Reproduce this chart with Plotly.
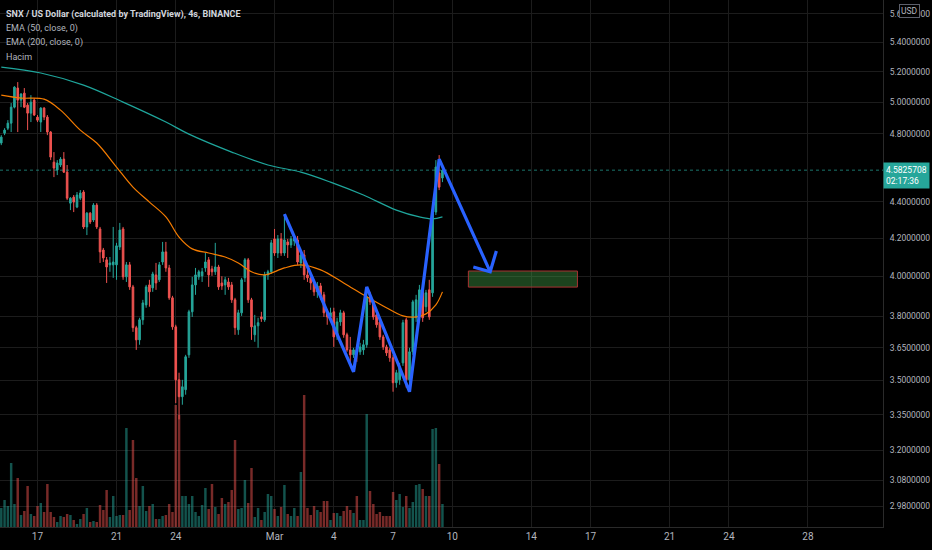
import math
import pandas as pd
import plotly.graph_objects as go

# ---------------- data ----------------
title_text = "SNX / US Dollar (calculated by TradingView), 4s, BINANCE"
legend_lines = ["EMA (50, close, 0)", "EMA (200, close, 0)", "Hacim"]

first_bar = "2022-02-15 04:00"
n_bars = 135
times = pd.date_range(first_bar, periods=n_bars, freq="4h")

open_ = [4.745, 4.805, 4.836, 4.867, 4.968, 5.091, 5.013, 5.058, 4.981, 4.930,
         5.013, 4.905, 4.874, 4.962, 4.905, 4.812, 4.630, 4.583, 4.613, 4.648,
         4.571, 4.393, 4.427, 4.371, 4.421, 4.456, 4.261, 4.337, 4.299, 4.382,
         4.250, 4.137, 4.085, 4.059, 4.059, 4.059, 4.153, 4.250, 3.997, 4.059,
         3.946, 3.745, 3.687, 3.783, 3.856, 3.956, 3.941, 4.007, 3.982, 4.074,
         4.127, 4.043, 3.891, 3.749, 3.503, 3.428, 3.459, 3.617, 3.822, 3.956,
         3.997, 4.002, 4.043, 4.085, 4.038, 4.023, 4.048, 3.966, 3.956, 3.971,
         3.956, 3.881, 3.735, 3.817, 3.992, 4.085, 3.881, 3.711, 3.754, 3.797,
         3.783, 4.007, 4.023, 4.196, 4.121, 4.196, 4.121, 4.180, 4.164, 4.185,
         4.191, 4.069, 4.111, 4.007, 3.992, 3.966, 3.921, 3.951, 3.906, 3.817,
         3.797, 3.822, 3.711, 3.773, 3.817, 3.711, 3.640, 3.617, 3.640, 3.631,
         3.640, 3.664, 3.896, 3.871, 3.807, 3.773, 3.701, 3.654, 3.640, 3.603,
         3.490, 3.503, 3.580, 3.783, 3.503, 3.631, 3.793, 3.797, 3.931, 3.847,
         3.931, 3.916, 4.343, 4.566, 4.537]
high = [4.793, 4.836, 4.886, 4.994, 5.103, 5.130, 5.058, 5.091, 4.994, 5.045,
        5.026, 4.918, 4.968, 4.968, 4.918, 4.818, 4.690, 4.642, 4.660, 4.690,
        4.613, 4.427, 4.439, 4.456, 4.467, 4.467, 4.343, 4.343, 4.393, 4.393,
        4.261, 4.148, 4.100, 4.100, 4.261, 4.175, 4.283, 4.261, 4.074, 4.074,
        3.956, 3.754, 3.793, 3.881, 3.956, 3.982, 4.023, 4.069, 4.074, 4.180,
        4.180, 4.059, 3.901, 3.759, 3.535, 3.503, 3.617, 3.832, 3.997, 4.043,
        4.033, 4.043, 4.121, 4.100, 4.054, 4.175, 4.059, 4.000, 3.997, 3.992,
        3.971, 3.891, 3.832, 3.992, 4.095, 4.095, 3.891, 3.807, 3.793, 3.822,
        4.023, 4.033, 4.191, 4.250, 4.217, 4.228, 4.332, 4.196, 4.212, 4.222,
        4.212, 4.137, 4.137, 4.033, 4.012, 3.982, 3.971, 3.966, 3.921, 3.832,
        3.842, 3.842, 3.793, 3.832, 3.827, 3.721, 3.701, 3.650, 3.664, 3.673,
        3.687, 3.931, 3.921, 3.881, 3.822, 3.783, 3.711, 3.664, 3.650, 3.617,
        3.548, 3.580, 3.783, 3.793, 3.650, 3.881, 3.906, 3.956, 3.941, 3.931,
        3.982, 4.382, 4.642, 4.672, 4.613]
low = [4.732, 4.793, 4.824, 4.812, 4.960, 4.812, 4.968, 4.962, 4.824, 4.874,
       4.912, 4.874, 4.812, 4.886, 4.793, 4.642, 4.542, 4.554, 4.601, 4.566,
       4.410, 4.354, 4.343, 4.365, 4.410, 4.250, 4.217, 4.277, 4.288, 4.250,
       4.069, 4.074, 3.966, 4.023, 3.992, 3.982, 4.137, 3.982, 3.971, 3.931,
       3.725, 3.640, 3.664, 3.759, 3.842, 3.847, 3.921, 3.931, 3.971, 4.059,
       4.023, 3.881, 3.735, 3.400, 3.330, 3.393, 3.437, 3.603, 3.797, 3.906,
       3.982, 3.971, 4.023, 3.946, 4.002, 4.007, 3.931, 3.931, 3.906, 3.931,
       3.866, 3.711, 3.711, 3.802, 3.971, 3.866, 3.687, 3.678, 3.650, 3.773,
       3.773, 3.982, 4.012, 4.106, 4.095, 4.106, 4.106, 4.095, 4.148, 4.159,
       4.059, 4.043, 3.982, 3.971, 3.931, 3.901, 3.891, 3.881, 3.797, 3.759,
       3.773, 3.654, 3.687, 3.754, 3.697, 3.631, 3.580, 3.603, 3.585, 3.617,
       3.617, 3.650, 3.856, 3.783, 3.745, 3.687, 3.640, 3.612, 3.585, 3.450,
       3.468, 3.481, 3.566, 3.468, 3.450, 3.617, 3.773, 3.783, 3.773, 3.822,
       3.783, 3.896, 4.327, 4.467, 4.513]
close = [4.781, 4.824, 4.867, 4.968, 5.097, 5.013, 5.052, 4.968, 4.930, 5.000,
         4.918, 4.886, 4.962, 4.905, 4.812, 4.660, 4.595, 4.625, 4.648, 4.571,
         4.421, 4.421, 4.399, 4.439, 4.450, 4.261, 4.337, 4.288, 4.382, 4.261,
         4.127, 4.095, 4.048, 4.069, 4.074, 4.159, 4.244, 3.997, 4.059, 3.946,
         3.745, 3.687, 3.783, 3.866, 3.946, 3.921, 4.012, 3.966, 4.059, 4.127,
         4.043, 3.891, 3.749, 3.503, 3.428, 3.472, 3.608, 3.822, 3.956, 4.007,
         4.023, 4.023, 4.074, 4.007, 4.023, 4.048, 3.946, 3.951, 3.982, 3.946,
         3.881, 3.745, 3.817, 3.982, 4.085, 3.881, 3.749, 3.754, 3.769, 3.788,
         4.007, 4.023, 4.175, 4.121, 4.196, 4.121, 4.191, 4.164, 4.196, 4.201,
         4.074, 4.111, 4.007, 3.992, 3.966, 3.921, 3.951, 3.906, 3.817, 3.797,
         3.817, 3.701, 3.773, 3.817, 3.711, 3.640, 3.617, 3.640, 3.631, 3.654,
         3.664, 3.896, 3.871, 3.797, 3.759, 3.701, 3.654, 3.626, 3.603, 3.490,
         3.535, 3.562, 3.769, 3.503, 3.631, 3.871, 3.881, 3.931, 3.793, 3.916,
         3.797, 4.337, 4.601, 4.484, 4.5825708]
volume = [19, 27, 21, 64, 23, 49, 12, 16, 41, 13,
          11, 21, 24, 15, 43, 15, 10, 5, 11, 10,
          13, 12, 7, 3, 8, 13, 19, 5, 6, 5,
          22, 17, 37, 10, 31, 11, 12, 12, 99, 17,
          87, 49, 21, 41, 16, 21, 23, 8, 8, 11,
          12, 23, 15, 122, 112, 31, 31, 23, 31, 15,
          11, 22, 39, 18, 43, 20, 13, 29, 23, 25,
          37, 87, 18, 19, 47, 24, 59, 10, 19, 7,
          15, 33, 31, 18, 11, 20, 42, 13, 11, 19,
          11, 55, 132, 19, 12, 21, 17, 15, 26, 26,
          7, 14, 14, 11, 16, 21, 17, 14, 31, 7,
          7, 113, 36, 23, 13, 15, 11, 11, 11, 35,
          27, 33, 20, 31, 19, 25, 42, 43, 38, 31,
          31, 98, 99, 63, 23]  # thousands

ema50_idx = [0, 6, 13, 18, 24, 29, 35, 40, 45, 50, 54, 58, 63, 68, 72, 76,
             80, 86, 91, 97, 104, 111, 116, 122, 126, 129, 132, 134]
ema50 = [5.045, 5.026, 5.019, 4.949, 4.824, 4.745, 4.601, 4.484, 4.399, 4.316,
         4.206, 4.143, 4.121, 4.100, 4.069, 4.023, 4.007, 4.043, 4.059, 4.033,
         3.966, 3.896, 3.851, 3.802, 3.797, 3.812, 3.856, 3.921]
ema200_idx = [0, 12, 25, 37, 50, 57, 70, 81, 91, 100, 110, 120, 127, 131, 134]
ema200 = [5.230, 5.190, 5.110, 5.000, 4.874, 4.799, 4.690, 4.613, 4.571, 4.513,
          4.439, 4.354, 4.316, 4.305, 4.316]

pattern_times = ["2022-03-01 12:00", "2022-03-05 00:00", "2022-03-05 16:00",
                 "2022-03-07 20:00", "2022-03-09 08:00", "2022-03-11 22:00"]
pattern_prices = [4.332, 3.539, 3.946, 3.450, 4.648, 4.023]
arrow_times = ["2022-03-11 01:30", "2022-03-11 22:00", "2022-03-12 05:30"]
arrow_prices = [4.048, 4.023, 4.132]
zone_times = ["2022-03-10 19:30", "2022-03-16 08:00"]
zone_prices = [3.945, 4.027]

last_price = 4.5825708
countdown = "02:17:36"

price_ticks = [5.6, 5.4, 5.2, 5.0, 4.8, 4.4, 4.2, 4.0, 3.8, 3.65, 3.5, 3.35, 3.2, 3.08, 2.98]
date_ticks = ["2022-02-17", "2022-02-21", "2022-02-24", "2022-03-01", "2022-03-04",
              "2022-03-07", "2022-03-10", "2022-03-14", "2022-03-17", "2022-03-21",
              "2022-03-24", "2022-03-28"]
date_labels = ["17", "21", "24", "Mar", "4", "7", "10", "14", "17", "21", "24", "28"]

x_range = ["2022-02-15 02:27", "2022-03-31 19:15"]
price_range = [2.901, 5.699]

# ---------------- style ----------------
UP = "#26a69a"
DOWN = "#ef5350"
BG = "#000000"
GRID = "#1c1c1c"
TXT = "#b2b5be"
BLUE = "#2962ff"
FONT = "Roboto, Liberation Sans, sans-serif"

vol_colors = ["rgba(38,166,154,0.5)" if c >= o else "rgba(239,83,80,0.5)"
              for o, c in zip(open_, close)]

fig = go.Figure()

# volume on base axis (drawn behind)
fig.add_trace(go.Bar(x=times, y=volume, marker_color=vol_colors,
                     marker_line_width=0, yaxis="y", hoverinfo="skip"))

# EMA lines
fig.add_trace(go.Scatter(x=[times[i] for i in ema200_idx], y=ema200, yaxis="y2",
                         mode="lines", line=dict(color="#1fa69c", width=1.2, shape="spline"),
                         hoverinfo="skip"))
fig.add_trace(go.Scatter(x=[times[i] for i in ema50_idx], y=ema50, yaxis="y2",
                         mode="lines", line=dict(color="#f57c00", width=1.2, shape="spline"),
                         hoverinfo="skip"))

# last price dotted line
fig.add_trace(go.Scatter(x=x_range, y=[last_price, last_price], yaxis="y2",
                         mode="lines", line=dict(color="rgba(38,166,154,0.7)", width=1, dash="dot"),
                         hoverinfo="skip"))

# candles
fig.add_trace(go.Candlestick(
    x=times, open=open_, high=high, low=low, close=close, yaxis="y2",
    increasing=dict(line=dict(color=UP, width=1), fillcolor=UP),
    decreasing=dict(line=dict(color=DOWN, width=1), fillcolor=DOWN),
    whiskerwidth=0, hoverinfo="skip"))

# target zone
fig.add_trace(go.Scatter(
    x=[zone_times[0], zone_times[1], zone_times[1], zone_times[0], zone_times[0]],
    y=[zone_prices[0], zone_prices[0], zone_prices[1], zone_prices[1], zone_prices[0]],
    yaxis="y2", mode="lines", fill="toself", fillcolor="rgba(67,160,71,0.42)",
    line=dict(color="#a83232", width=1), hoverinfo="skip"))

# drawn pattern
fig.add_trace(go.Scatter(x=pattern_times, y=pattern_prices, yaxis="y2", mode="lines",
                         line=dict(color=BLUE, width=3.2), hoverinfo="skip"))
fig.add_trace(go.Scatter(x=arrow_times, y=arrow_prices, yaxis="y2", mode="lines",
                         line=dict(color=BLUE, width=3.2), hoverinfo="skip"))

annotations = []
# header / legend texts
annotations.append(dict(text=f"<b>{title_text}</b>", xref="paper", yref="paper", x=0, y=1,
                        xanchor="left", yanchor="middle", xshift=4, yshift=-14,
                        showarrow=False, font=dict(family=FONT, size=9, color="#d1d4dc")))
for k, t in enumerate(legend_lines):
    annotations.append(dict(text=t, xref="paper", yref="paper", x=0, y=1,
                            xanchor="left", yanchor="middle", xshift=4, yshift=-28 - 14.3 * k,
                            showarrow=False, font=dict(family=FONT, size=9, color=TXT)))
# current price label
annotations.append(dict(text=f"{last_price:.7f}<br>{countdown}", xref="paper", yref="y2",
                        x=1, y=math.log10(last_price), xanchor="left", yanchor="top",
                        yshift=8, xshift=0, showarrow=False, align="left",
                        bgcolor=UP, borderpad=2,
                        font=dict(family=FONT, size=8.5, color="#ffffff")))
# currency badge
annotations.append(dict(text="USD", xref="paper", yref="paper", x=1, y=1,
                        xanchor="left", yanchor="top", xshift=16, yshift=-4,
                        showarrow=False, bgcolor=BG, bordercolor="#5d606b", borderwidth=1,
                        borderpad=1, font=dict(family=FONT, size=8.5, color=TXT)))

fig.update_layout(
    width=932, height=550,
    margin=dict(l=0, r=49, t=0, b=23, autoexpand=False),
    paper_bgcolor=BG, plot_bgcolor=BG,
    showlegend=False,
    bargap=0.25,
    hovermode=False,
    annotations=annotations,
    xaxis=dict(type="date", range=x_range, tickvals=date_ticks, ticktext=date_labels,
               showgrid=True, gridcolor=GRID, gridwidth=1, zeroline=False,
               showline=True, linecolor="#2a2a2a", linewidth=1, automargin=False,
               tickfont=dict(family=FONT, size=10, color=TXT), ticks="",
               rangeslider=dict(visible=False), fixedrange=True),
    yaxis=dict(range=[0, max(volume) * 527 / 132], visible=False, showgrid=False,
               zeroline=False, fixedrange=True, automargin=False),
    yaxis2=dict(type="log", overlaying="y", side="right",
                range=[math.log10(price_range[0]), math.log10(price_range[1])],
                tickvals=price_ticks, ticktext=[f"{v:.7f}" for v in price_ticks],
                showgrid=True, gridcolor=GRID, gridwidth=1, zeroline=False,
                showline=True, linecolor="#2a2a2a", linewidth=1, ticks="",
                ticklabelstandoff=4, automargin=False,
                tickfont=dict(family=FONT, size=8.5, color=TXT), fixedrange=True),
)

fig.write_html("out.html",
               config={"displayModeBar": False, "staticPlot": True},
               post_script="document.body.style.margin='0';document.body.style.overflow='hidden';")
